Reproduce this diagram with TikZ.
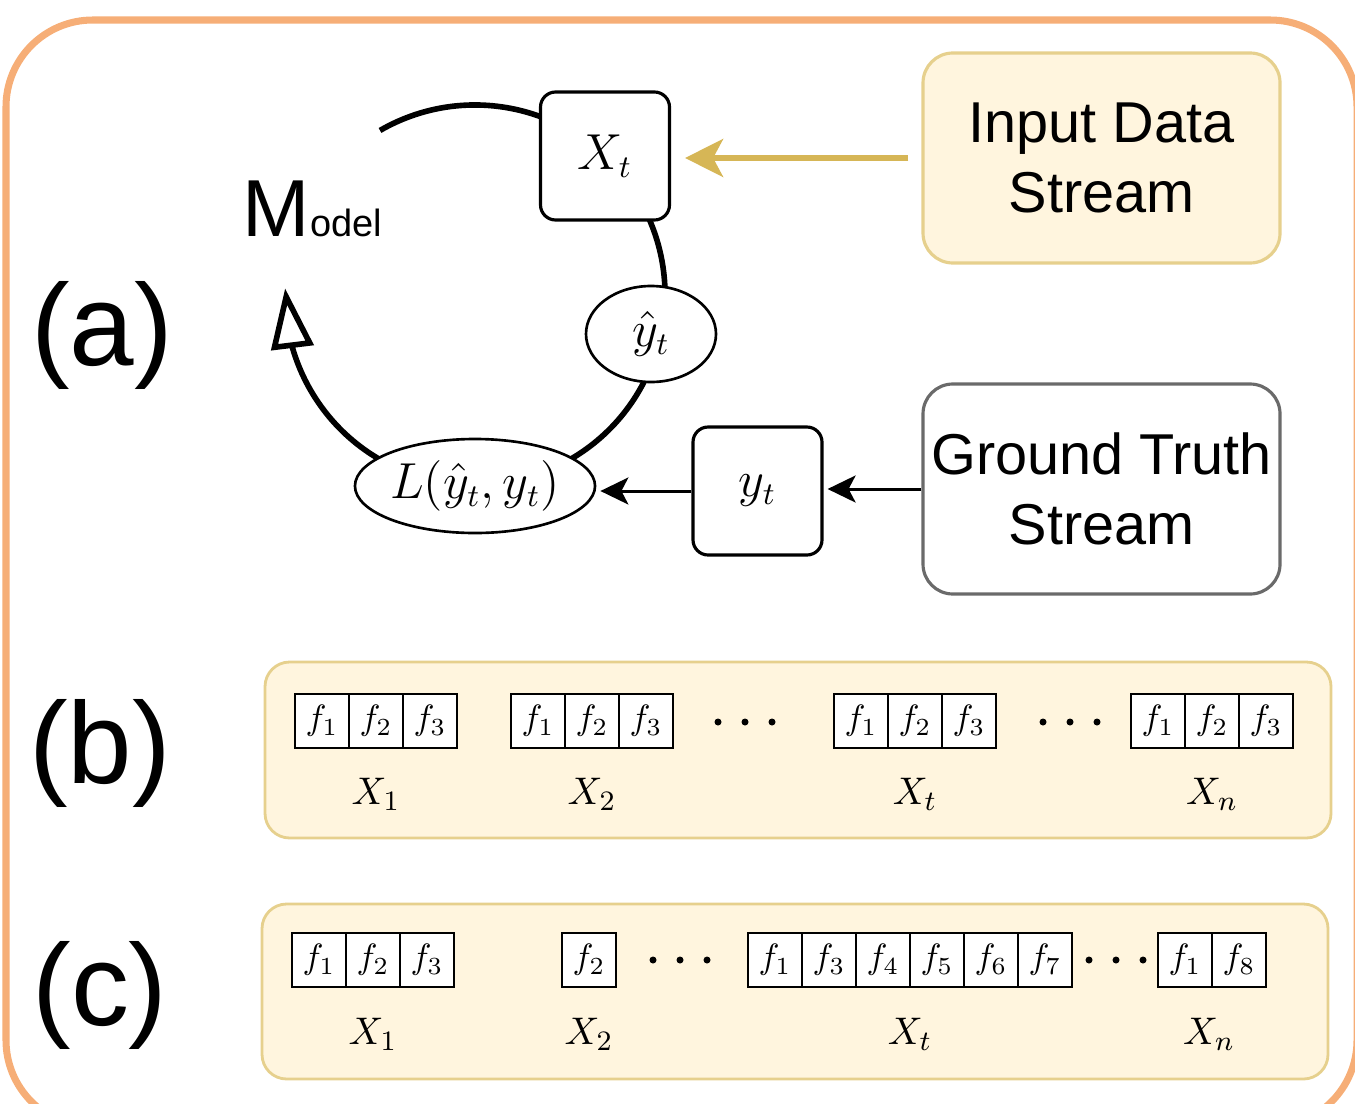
\documentclass[tikz,border=0pt]{standalone}
\usepackage{fontspec}
\setsansfont{Liberation Sans}
\usepackage{tikz}
\usetikzlibrary{arrows.meta,bending,calc,shapes.geometric}
\definecolor{olFrame}{HTML}{F6AE77}
\definecolor{olGold}{HTML}{D6B656}
\definecolor{olGoldFill}{HTML}{FFF5DE}
\definecolor{olGoldLine}{HTML}{E6D08D}
\definecolor{olGrey}{HTML}{6A6A6A}
\tikzset{
    olState/.style={
        rectangle,
        draw,
        line width=0.9pt,
        rounded corners=4.3pt,
        fill=white,
        minimum width=1.29cm,
        minimum height=1.28cm,
        inner sep=0pt,
        font=\fontsize{13.3}{16}\selectfont
    },
    olValue/.style={
        ellipse,
        draw,
        line width=0.75pt,
        fill=white,
        inner sep=0pt,
        font=\fontsize{13.3}{16}\selectfont
    },
    olStream/.style={
        rectangle,
        draw,
        rounded corners=8.5pt,
        line width=0.9pt,
        minimum width=3.57cm,
        minimum height=2.10cm,
        align=center,
        inner sep=0pt,
        font=\sffamily\fontsize{16.4}{20}\selectfont
    },
    % Sequence panels and feature cells
    olPanel/.style={rectangle, draw=olGoldLine, fill=olGoldFill, rounded corners=7pt, line width=0.8pt, minimum width=10.66cm, inner sep=0pt},
    olCell/.style={rectangle, draw, line width=0.7pt, fill=white, minimum size=0.54cm, inner sep=0pt, font=\fontsize{10.2}{12}\selectfont},
    olSeq/.style={inner sep=0pt, font=\fontsize{10.8}{12}\selectfont},
    olTag/.style={inner sep=0pt, font=\sffamily\fontsize{33}{38}\selectfont},
    % Arrows
    olArrow/.style={-{Stealth[length=0.28cm, width=0.27cm, inset=0.07cm]}, line width=0.85pt}
}

\begin{document}
\begin{tikzpicture}
    \useasboundingbox (0,0) rectangle (13.55,-11.03);
    \draw[olFrame, line width=2pt, rounded corners=24.7pt] (0.06,-0.20) rectangle (13.57,-11.27);

    \node[olTag] (taga) at (1.02,-3.35) {(a)};
    \node[olTag] (tagb) at (1.00,-7.53) {(b)};
    \node[olTag] (tagc) at (1.00,-9.95) {(c)};

    % training loop
    \coordinate (loopc) at (4.75,-2.95);
    \draw[line width=1.6pt, -{Triangle[open, length=0.6cm, width=0.42cm, flex]}]
        ($(loopc)+(120:1.9)$) arc[start angle=120, end angle=-182, radius=1.9];
    \node[anchor=base west, inner sep=0pt] (model) at (2.42,-2.36)
        {\sffamily\fontsize{23}{26}\selectfont M\fontsize{10.8}{12}\selectfont odel};
    \node[olState] (xt) at (6.05,-1.56) {$X_t$};
    \node[olValue, minimum width=1.30cm, minimum height=0.96cm] (yhat) at (6.51,-3.34) {$\hat{y}_t$};
    \node[olValue, minimum width=2.26cm, minimum height=0.94cm] (loss) at (4.75,-4.86) {$L(\hat{y}_t, y_t)$};
    \node[olState] (yt) at (7.575,-4.91) {$y_t$};

    \node[olStream, fill=olGoldFill, draw=olGoldLine] (input) at (11.015,-1.58) {Input Data\\Stream};
    \node[olStream, fill=white, draw=olGrey] (truth) at (11.015,-4.89) {Ground Truth\\Stream};

    \draw[olGold, line width=1.5pt, -{Stealth[length=0.38cm, width=0.38cm, inset=0.1cm]}, shorten <=0.13cm, shorten >=0.14cm]
        (input.west) -- (input.west -| xt.east);
    \draw[olArrow, shorten >=0.04cm] (truth.west) -- (truth.west -| yt.east);
    \draw[olArrow, shorten >=0.04cm] (yt.west) -- (yt.west -| loss.east);

    % (b) fixed feature set
    \node[olPanel, minimum height=1.76cm] (panelb) at (7.98,-7.50) {};
    \foreach \g/\x in {one/2.68, two/4.84, t/8.07, n/11.04} {
        \foreach \i in {1,2,3}
            \node[olCell] (b\g\i) at (\x+0.54*\i,-7.21) {$f_{\i}$};
    }
    \foreach \g/\x/\s in {one/3.76/1, two/5.92/2, t/9.15/t, n/12.12/n}
        \node[olSeq] (bx\g) at (\x,-7.94) {$X_{\s}$};
    \foreach \d in {7.18,7.45,7.72,10.43,10.70,10.97}
        \fill (\d,-7.22) circle (0.035);

    % (c) varying feature set
    \node[olPanel, minimum height=1.75cm] (panelc) at (7.95,-9.915) {};
    \foreach \i in {1,2,3}
        \node[olCell] (cone\i) at (2.65+0.54*\i,-9.60) {$f_{\i}$};
    \node[olCell] (ctwo1) at (5.89,-9.60) {$f_2$};
    \foreach \f [count=\i] in {1,3,4,5,6,7}
        \node[olCell] (ct\i) at (7.21+0.54*\i,-9.60) {$f_{\f}$};
    \foreach \f [count=\i] in {1,8}
        \node[olCell] (cn\i) at (11.31+0.54*\i,-9.60) {$f_{\f}$};
    \foreach \g/\x/\s in {one/3.73/1, two/5.89/2, t/9.10/t, n/12.09/n}
        \node[olSeq] (cx\g) at (\x,-10.34) {$X_{\s}$};
    \foreach \d in {6.53,6.80,7.07,10.89,11.16,11.43}
        \fill (\d,-9.60) circle (0.035);
\end{tikzpicture}
\end{document}
